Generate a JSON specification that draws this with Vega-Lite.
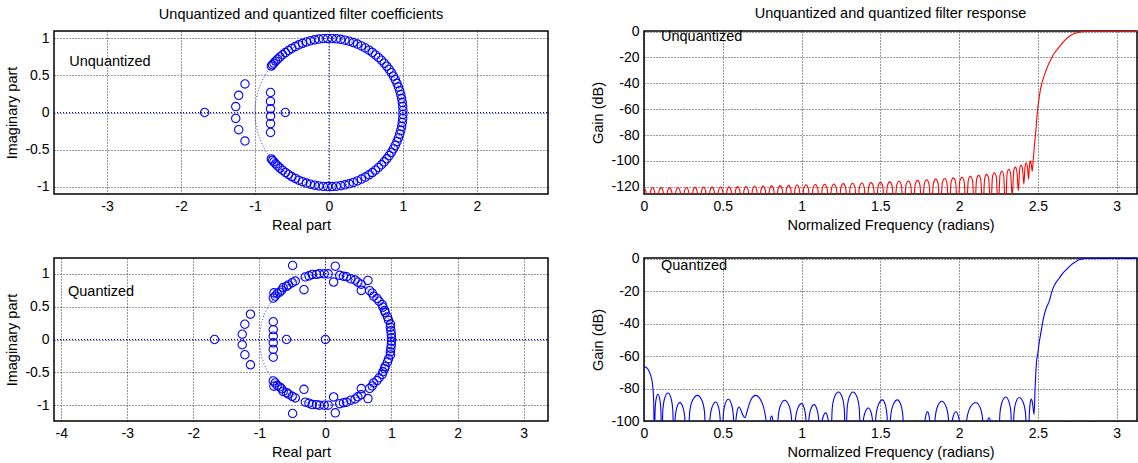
{
"$schema": "https://vega.github.io/schema/vega-lite/v6.json",
"padding": {"left": 4, "top": 5, "right": 0, "bottom": 0},
"config": {
  "font": "Liberation Sans",
  "view": {"stroke": "black", "strokeWidth": 1.5},
  "title": {"fontSize": 14.5, "fontWeight": "normal", "color": "black", "offset": 8, "anchor": "middle", "frame": "group"},
  "axis": {"labelFontSize": 14, "labelColor": "black", "titleFontSize": 14.5, "titleFontWeight": "normal", "titleColor": "black", "gridColor": "black", "gridDash": [1, 2], "gridWidth": 0.8, "gridOpacity": 1, "ticks": false, "domain": false, "labelPadding": 5, "titlePadding": 5, "labelFlush": false, "labelOverlap": false}
},
"datasets": {
"one": [{"k": 0}],
"uc": [
{"i":0,"x":1,"y":0},{"i":1,"x":0.9962,"y":0.0872},{"i":2,"x":0.9848,"y":0.1736},{"i":3,"x":0.9659,"y":0.2588},{"i":4,"x":0.9397,"y":0.342},{"i":5,"x":0.9063,"y":0.4226},{"i":6,"x":0.866,"y":0.5},{"i":7,"x":0.8192,"y":0.5736},{"i":8,"x":0.766,"y":0.6428},{"i":9,"x":0.7071,"y":0.7071},{"i":10,"x":0.6428,"y":0.766},{"i":11,"x":0.5736,"y":0.8192},{"i":12,"x":0.5,"y":0.866},{"i":13,"x":0.4226,"y":0.9063},{"i":14,"x":0.342,"y":0.9397},{"i":15,"x":0.2588,"y":0.9659},{"i":16,"x":0.1736,"y":0.9848},{"i":17,"x":0.0872,"y":0.9962},{"i":18,"x":0,"y":1},{"i":19,"x":-0.0872,"y":0.9962},{"i":20,"x":-0.1736,"y":0.9848},{"i":21,"x":-0.2588,"y":0.9659},{"i":22,"x":-0.342,"y":0.9397},{"i":23,"x":-0.4226,"y":0.9063},{"i":24,"x":-0.5,"y":0.866},{"i":25,"x":-0.5736,"y":0.8192},{"i":26,"x":-0.6428,"y":0.766},{"i":27,"x":-0.7071,"y":0.7071},{"i":28,"x":-0.766,"y":0.6428},{"i":29,"x":-0.8192,"y":0.5736},{"i":30,"x":-0.866,"y":0.5},{"i":31,"x":-0.9063,"y":0.4226},{"i":32,"x":-0.9397,"y":0.342},{"i":33,"x":-0.9659,"y":0.2588},{"i":34,"x":-0.9848,"y":0.1736},{"i":35,"x":-0.9962,"y":0.0872},{"i":36,"x":-1,"y":0},{"i":37,"x":-0.9962,"y":-0.0872},{"i":38,"x":-0.9848,"y":-0.1736},{"i":39,"x":-0.9659,"y":-0.2588},{"i":40,"x":-0.9397,"y":-0.342},{"i":41,"x":-0.9063,"y":-0.4226},{"i":42,"x":-0.866,"y":-0.5},{"i":43,"x":-0.8192,"y":-0.5736},{"i":44,"x":-0.766,"y":-0.6428},{"i":45,"x":-0.7071,"y":-0.7071},{"i":46,"x":-0.6428,"y":-0.766},{"i":47,"x":-0.5736,"y":-0.8192},{"i":48,"x":-0.5,"y":-0.866},{"i":49,"x":-0.4226,"y":-0.9063},{"i":50,"x":-0.342,"y":-0.9397},{"i":51,"x":-0.2588,"y":-0.9659},{"i":52,"x":-0.1736,"y":-0.9848},{"i":53,"x":-0.0872,"y":-0.9962},{"i":54,"x":0,"y":-1},{"i":55,"x":0.0872,"y":-0.9962},{"i":56,"x":0.1736,"y":-0.9848},{"i":57,"x":0.2588,"y":-0.9659},{"i":58,"x":0.342,"y":-0.9397},{"i":59,"x":0.4226,"y":-0.9063},{"i":60,"x":0.5,"y":-0.866},{"i":61,"x":0.5736,"y":-0.8192},{"i":62,"x":0.6428,"y":-0.766},{"i":63,"x":0.7071,"y":-0.7071},{"i":64,"x":0.766,"y":-0.6428},{"i":65,"x":0.8192,"y":-0.5736},{"i":66,"x":0.866,"y":-0.5},{"i":67,"x":0.9063,"y":-0.4226},{"i":68,"x":0.9397,"y":-0.342},{"i":69,"x":0.9659,"y":-0.2588},{"i":70,"x":0.9848,"y":-0.1736},{"i":71,"x":0.9962,"y":-0.0872},{"i":72,"x":1,"y":0}
],
"z0": [
{"x":0.9996,"y":0.027},{"x":0.9967,"y":0.0809},{"x":0.9909,"y":0.1346},{"x":0.9822,"y":0.1879},{"x":0.9706,"y":0.2406},{"x":0.9562,"y":0.2927},{"x":0.939,"y":0.3438},{"x":0.9191,"y":0.394},{"x":0.8965,"y":0.4431},{"x":0.8713,"y":0.4908},{"x":0.8435,"y":0.5371},{"x":0.8133,"y":0.5819},{"x":0.7807,"y":0.6249},{"x":0.7458,"y":0.6661},{"x":0.7088,"y":0.7054},{"x":0.6697,"y":0.7426},{"x":0.6286,"y":0.7777},{"x":0.5857,"y":0.8105},{"x":0.5411,"y":0.8409},{"x":0.4906,"y":0.8714},{"x":0.4384,"y":0.8988},{"x":0.3846,"y":0.9231},{"x":0.3295,"y":0.9442},{"x":0.2733,"y":0.962},{"x":0.2161,"y":0.9764},{"x":0.1581,"y":0.9874},{"x":0.0996,"y":0.995},{"x":0.0408,"y":0.9992},{"x":-0.0182,"y":0.9998},{"x":-0.0771,"y":0.997},{"x":-0.1358,"y":0.9907},{"x":-0.193,"y":0.9812},{"x":-0.2495,"y":0.9684},{"x":-0.3043,"y":0.9526},{"x":-0.3571,"y":0.934},{"x":-0.4079,"y":0.913},{"x":-0.4566,"y":0.8897},{"x":-0.5031,"y":0.8642},{"x":-0.5474,"y":0.8369},{"x":-0.5885,"y":0.8085},{"x":-0.6266,"y":0.7793},{"x":-0.6618,"y":0.7497},{"x":-0.6934,"y":0.7206},{"x":-0.721,"y":0.693},{"x":-0.7448,"y":0.6673},{"x":-0.7645,"y":0.6447},{"x":-0.7791,"y":0.6269},
{"x":0.9996,"y":-0.027},{"x":0.9967,"y":-0.0809},{"x":0.9909,"y":-0.1346},{"x":0.9822,"y":-0.1879},{"x":0.9706,"y":-0.2406},{"x":0.9562,"y":-0.2927},{"x":0.939,"y":-0.3438},{"x":0.9191,"y":-0.394},{"x":0.8965,"y":-0.4431},{"x":0.8713,"y":-0.4908},{"x":0.8435,"y":-0.5371},{"x":0.8133,"y":-0.5819},{"x":0.7807,"y":-0.6249},{"x":0.7458,"y":-0.6661},{"x":0.7088,"y":-0.7054},{"x":0.6697,"y":-0.7426},{"x":0.6286,"y":-0.7777},{"x":0.5857,"y":-0.8105},{"x":0.5411,"y":-0.8409},{"x":0.4906,"y":-0.8714},{"x":0.4384,"y":-0.8988},{"x":0.3846,"y":-0.9231},{"x":0.3295,"y":-0.9442},{"x":0.2733,"y":-0.962},{"x":0.2161,"y":-0.9764},{"x":0.1581,"y":-0.9874},{"x":0.0996,"y":-0.995},{"x":0.0408,"y":-0.9992},{"x":-0.0182,"y":-0.9998},{"x":-0.0771,"y":-0.997},{"x":-0.1358,"y":-0.9907},{"x":-0.193,"y":-0.9812},{"x":-0.2495,"y":-0.9684},{"x":-0.3043,"y":-0.9526},{"x":-0.3571,"y":-0.934},{"x":-0.4079,"y":-0.913},{"x":-0.4566,"y":-0.8897},{"x":-0.5031,"y":-0.8642},{"x":-0.5474,"y":-0.8369},{"x":-0.5885,"y":-0.8085},{"x":-0.6266,"y":-0.7793},{"x":-0.6618,"y":-0.7497},{"x":-0.6934,"y":-0.7206},{"x":-0.721,"y":-0.693},{"x":-0.7448,"y":-0.6673},{"x":-0.7645,"y":-0.6447},{"x":-0.7791,"y":-0.6269},
{"x":-0.79,"y":0.05},{"x":-0.79,"y":-0.05},{"x":-0.79,"y":0.15},{"x":-0.79,"y":-0.15},{"x":-0.79,"y":0.27},{"x":-0.79,"y":-0.27},{"x":-0.59,"y":0},{"x":-1.26,"y":0.08},{"x":-1.26,"y":-0.08},{"x":-1.22,"y":0.232},{"x":-1.22,"y":-0.232},{"x":-1.135,"y":0.385},{"x":-1.135,"y":-0.385},{"x":-1.68,"y":0}
],
"z1": [
{"x":0.9996,"y":0.027},{"x":0.9967,"y":0.0809},{"x":0.9909,"y":0.1346},{"x":0.9822,"y":0.1879},{"x":0.985,"y":0.235},{"x":0.9562,"y":0.2927},{"x":0.939,"y":0.3438},{"x":0.905,"y":0.41},{"x":0.8965,"y":0.4431},{"x":0.8713,"y":0.4908},{"x":0.86,"y":0.53},{"x":0.8133,"y":0.5819},{"x":0.7807,"y":0.6249},{"x":0.73,"y":0.66},{"x":0.7088,"y":0.7054},{"x":0.6697,"y":0.7426},{"x":0.644,"y":0.899},{"x":0.543,"y":0.747},{"x":0.5411,"y":0.8409},{"x":0.4906,"y":0.8714},{"x":0.45,"y":0.905},{"x":0.3846,"y":0.9231},{"x":0.32,"y":0.955},{"x":0.2733,"y":0.962},{"x":0.2161,"y":0.9764},{"x":0.149,"y":1.116},{"x":0.124,"y":0.874},{"x":0.0408,"y":0.9992},{"x":-0.0182,"y":0.9998},{"x":-0.09,"y":1.0},{"x":-0.1358,"y":0.9907},{"x":-0.2,"y":0.99},{"x":-0.2495,"y":0.9684},{"x":-0.3043,"y":0.9526},{"x":-0.497,"y":1.126},{"x":-0.325,"y":0.758},{"x":-0.4566,"y":0.8897},{"x":-0.5031,"y":0.8642},{"x":-0.56,"y":0.83},{"x":-0.5885,"y":0.8085},{"x":-0.64,"y":0.79},{"x":-0.6618,"y":0.7497},{"x":-0.6934,"y":0.7206},{"x":-0.73,"y":0.7},{"x":-0.78,"y":0.71},{"x":-0.76,"y":0.66},{"x":-0.79,"y":0.63},
{"x":0.9996,"y":-0.027},{"x":0.9967,"y":-0.0809},{"x":0.9909,"y":-0.1346},{"x":0.9822,"y":-0.1879},{"x":0.985,"y":-0.235},{"x":0.9562,"y":-0.2927},{"x":0.939,"y":-0.3438},{"x":0.905,"y":-0.41},{"x":0.8965,"y":-0.4431},{"x":0.8713,"y":-0.4908},{"x":0.86,"y":-0.53},{"x":0.8133,"y":-0.5819},{"x":0.7807,"y":-0.6249},{"x":0.73,"y":-0.66},{"x":0.7088,"y":-0.7054},{"x":0.6697,"y":-0.7426},{"x":0.644,"y":-0.899},{"x":0.543,"y":-0.747},{"x":0.5411,"y":-0.8409},{"x":0.4906,"y":-0.8714},{"x":0.45,"y":-0.905},{"x":0.3846,"y":-0.9231},{"x":0.32,"y":-0.955},{"x":0.2733,"y":-0.962},{"x":0.2161,"y":-0.9764},{"x":0.149,"y":-1.116},{"x":0.124,"y":-0.874},{"x":0.0408,"y":-0.9992},{"x":-0.0182,"y":-0.9998},{"x":-0.09,"y":-1.0},{"x":-0.1358,"y":-0.9907},{"x":-0.2,"y":-0.99},{"x":-0.2495,"y":-0.9684},{"x":-0.3043,"y":-0.9526},{"x":-0.497,"y":-1.126},{"x":-0.325,"y":-0.758},{"x":-0.4566,"y":-0.8897},{"x":-0.5031,"y":-0.8642},{"x":-0.56,"y":-0.83},{"x":-0.5885,"y":-0.8085},{"x":-0.64,"y":-0.79},{"x":-0.6618,"y":-0.7497},{"x":-0.6934,"y":-0.7206},{"x":-0.73,"y":-0.7},{"x":-0.78,"y":-0.71},{"x":-0.76,"y":-0.66},{"x":-0.79,"y":-0.63},
{"x":-0.79,"y":0.05},{"x":-0.79,"y":-0.05},{"x":-0.79,"y":0.15},{"x":-0.79,"y":-0.15},{"x":-0.79,"y":0.27},{"x":-0.79,"y":-0.27},{"x":-0.59,"y":0},{"x":-1.26,"y":0.08},{"x":-1.26,"y":-0.08},{"x":-1.22,"y":0.232},{"x":-1.22,"y":-0.232},{"x":-1.135,"y":0.385},{"x":-1.135,"y":-0.385},{"x":-1.68,"y":0},{"x":0,"y":0}
],
"red": [
{"f":0,"g":-120.8},{"f":0.0135,"g":-123.8},{"f":0.027,"g":-140},
{"f":0.0405,"g":-123.8},{"f":0.054,"g":-120.8},{"f":0.0675,"g":-123.8},{"f":0.081,"g":-140},
{"f":0.0945,"g":-123.7},{"f":0.108,"g":-120.7},{"f":0.1215,"g":-123.7},{"f":0.135,"g":-140},
{"f":0.1485,"g":-123.7},{"f":0.162,"g":-120.7},{"f":0.1755,"g":-123.7},{"f":0.189,"g":-140},
{"f":0.2025,"g":-123.6},{"f":0.216,"g":-120.6},{"f":0.2295,"g":-123.6},{"f":0.243,"g":-140},
{"f":0.2565,"g":-123.6},{"f":0.27,"g":-120.6},{"f":0.2835,"g":-123.6},{"f":0.297,"g":-140},
{"f":0.3105,"g":-123.5},{"f":0.324,"g":-120.5},{"f":0.3375,"g":-123.5},{"f":0.351,"g":-140},
{"f":0.3645,"g":-123.4},{"f":0.378,"g":-120.4},{"f":0.3915,"g":-123.4},{"f":0.405,"g":-140},
{"f":0.4185,"g":-123.3},{"f":0.432,"g":-120.3},{"f":0.4455,"g":-123.3},{"f":0.459,"g":-140},
{"f":0.4725,"g":-123.2},{"f":0.486,"g":-120.2},{"f":0.4995,"g":-123.2},{"f":0.513,"g":-140},
{"f":0.5265,"g":-123.1},{"f":0.54,"g":-120.1},{"f":0.5535,"g":-123.1},{"f":0.567,"g":-140},
{"f":0.5805,"g":-122.9},{"f":0.594,"g":-119.9},{"f":0.6075,"g":-122.9},{"f":0.621,"g":-140},
{"f":0.6345,"g":-122.8},{"f":0.648,"g":-119.8},{"f":0.6615,"g":-122.8},{"f":0.675,"g":-140},
{"f":0.6885,"g":-122.6},{"f":0.702,"g":-119.6},{"f":0.7155,"g":-122.6},{"f":0.729,"g":-140},
{"f":0.7425,"g":-122.5},{"f":0.756,"g":-119.5},{"f":0.7695,"g":-122.5},{"f":0.783,"g":-140},
{"f":0.7965,"g":-122.3},{"f":0.81,"g":-119.3},{"f":0.8235,"g":-122.3},{"f":0.837,"g":-140},
{"f":0.8505,"g":-122.1},{"f":0.864,"g":-119.1},{"f":0.8775,"g":-122.1},{"f":0.891,"g":-140},
{"f":0.9045,"g":-121.9},{"f":0.918,"g":-118.9},{"f":0.9315,"g":-121.9},{"f":0.945,"g":-140},
{"f":0.9585,"g":-121.7},{"f":0.972,"g":-118.7},{"f":0.9855,"g":-121.7},{"f":0.999,"g":-140},
{"f":1.0138,"g":-121.5},{"f":1.0285,"g":-118.5},{"f":1.0433,"g":-121.5},{"f":1.058,"g":-140},
{"f":1.0728,"g":-121.3},{"f":1.0875,"g":-118.3},{"f":1.1023,"g":-121.3},{"f":1.117,"g":-140},
{"f":1.1318,"g":-121.1},{"f":1.1465,"g":-118.1},{"f":1.1613,"g":-121.1},{"f":1.176,"g":-140},
{"f":1.1908,"g":-120.9},{"f":1.2055,"g":-117.9},{"f":1.2203,"g":-120.9},{"f":1.235,"g":-140},
{"f":1.2498,"g":-120.6},{"f":1.2645,"g":-117.6},{"f":1.2793,"g":-120.6},{"f":1.294,"g":-140},
{"f":1.3088,"g":-120.3},{"f":1.3235,"g":-117.3},{"f":1.3383,"g":-120.3},{"f":1.353,"g":-140},
{"f":1.3678,"g":-120.1},{"f":1.3825,"g":-117.1},{"f":1.3973,"g":-120.1},{"f":1.412,"g":-140},
{"f":1.4268,"g":-119.8},{"f":1.4415,"g":-116.8},{"f":1.4563,"g":-119.8},{"f":1.471,"g":-140},
{"f":1.4858,"g":-119.6},{"f":1.5005,"g":-116.6},{"f":1.5153,"g":-119.6},{"f":1.53,"g":-140},
{"f":1.5448,"g":-119.2},{"f":1.5595,"g":-116.2},{"f":1.5743,"g":-119.2},{"f":1.589,"g":-140},
{"f":1.6038,"g":-118.8},{"f":1.6185,"g":-115.8},{"f":1.6333,"g":-118.8},{"f":1.648,"g":-140},
{"f":1.6628,"g":-118.5},{"f":1.6775,"g":-115.5},{"f":1.6923,"g":-118.5},{"f":1.707,"g":-140},
{"f":1.7215,"g":-118.1},{"f":1.736,"g":-115.1},{"f":1.7505,"g":-118.1},{"f":1.765,"g":-140},
{"f":1.7795,"g":-117.6},{"f":1.794,"g":-114.6},{"f":1.8085,"g":-117.6},{"f":1.823,"g":-140},
{"f":1.8373,"g":-117.1},{"f":1.8515,"g":-114.1},{"f":1.8658,"g":-117.1},{"f":1.88,"g":-140},
{"f":1.894,"g":-116.6},{"f":1.908,"g":-113.6},{"f":1.922,"g":-116.6},{"f":1.936,"g":-140},
{"f":1.9498,"g":-116.1},{"f":1.9635,"g":-113.1},{"f":1.9773,"g":-116.1},{"f":1.991,"g":-140},
{"f":2.0045,"g":-115.6},{"f":2.018,"g":-112.6},{"f":2.0315,"g":-115.6},{"f":2.045,"g":-140},
{"f":2.0583,"g":-114.9},{"f":2.0715,"g":-111.9},{"f":2.0848,"g":-114.9},{"f":2.098,"g":-140},
{"f":2.111,"g":-114.2},{"f":2.124,"g":-111.2},{"f":2.137,"g":-114.2},{"f":2.15,"g":-140},
{"f":2.1625,"g":-113.4},{"f":2.175,"g":-110.4},{"f":2.1875,"g":-113.4},{"f":2.2,"g":-140},
{"f":2.212,"g":-112.2},{"f":2.224,"g":-109.2},{"f":2.236,"g":-112.2},{"f":2.248,"g":-140},
{"f":2.2595,"g":-111},{"f":2.271,"g":-108},{"f":2.2825,"g":-111},{"f":2.294,"g":-140},
{"f":2.3048,"g":-109.5},{"f":2.3155,"g":-106.5},{"f":2.3263,"g":-109.5},{"f":2.337,"g":-127},
{"f":2.3468,"g":-107.8},{"f":2.3565,"g":-104.8},{"f":2.3663,"g":-107.8},{"f":2.376,"g":-123},
{"f":2.3848,"g":-106.2},{"f":2.3935,"g":-103.2},{"f":2.4023,"g":-106.2},{"f":2.411,"g":-118},
{"f":2.4185,"g":-104.6},{"f":2.426,"g":-101.6},{"f":2.4335,"g":-104.6},{"f":2.441,"g":-114},
{"f":2.4468,"g":-103},{"f":2.4525,"g":-100},{"f":2.4583,"g":-103},{"f":2.464,"g":-108},
{"f":2.47,"g":-100},{"f":2.478,"g":-88},{"f":2.487,"g":-77},{"f":2.497,"g":-61.5},{"f":2.505,"g":-54},{"f":2.518,"g":-43.6},{"f":2.535,"g":-36},{"f":2.55,"g":-30.8},{"f":2.565,"g":-26},{"f":2.582,"g":-21.8},{"f":2.6,"g":-17.6},{"f":2.613,"g":-15.4},{"f":2.635,"g":-11.8},{"f":2.655,"g":-9},{"f":2.675,"g":-6.2},{"f":2.698,"g":-3.8},{"f":2.72,"g":-2.2},{"f":2.74,"g":-1.2},{"f":2.76,"g":-0.5},{"f":2.783,"g":-0.1},{"f":2.82,"g":0},{"f":3.1416,"g":0}
],
"blue": [
{"f":0,"g":-66.5},{"f":0.02,"g":-67.5},{"f":0.035,"g":-70},{"f":0.048,"g":-74},{"f":0.056,"g":-79},{"f":0.062,"g":-90},{"f":0.066,"g":-115},
{"f":0.0704,"g":-93.5},{"f":0.077,"g":-86.5},{"f":0.088,"g":-83.5},{"f":0.1,"g":-86.5},{"f":0.1072,"g":-93.5},{"f":0.112,"g":-115},
{"f":0.12,"g":-92.8},{"f":0.132,"g":-85.8},{"f":0.152,"g":-82.8},{"f":0.171,"g":-85.8},{"f":0.1824,"g":-92.8},{"f":0.19,"g":-115},
{"f":0.1974,"g":-98.7},{"f":0.2085,"g":-91.7},{"f":0.227,"g":-88.7},{"f":0.2475,"g":-91.7},{"f":0.2598,"g":-98.7},{"f":0.268,"g":-115},
{"f":0.278,"g":-115},{"f":0.2902,"g":-94.2},{"f":0.3085,"g":-87.2},{"f":0.339,"g":-84.2},{"f":0.367,"g":-87.2},{"f":0.3838,"g":-94.2},{"f":0.395,"g":-115},
{"f":0.41,"g":-115},{"f":0.419,"g":-98.3},{"f":0.4325,"g":-91.3},{"f":0.455,"g":-88.3},{"f":0.4725,"g":-91.3},{"f":0.483,"g":-98.3},{"f":0.49,"g":-115},
{"f":0.495,"g":-115},{"f":0.503,"g":-96.6},{"f":0.515,"g":-89.6},{"f":0.535,"g":-86.6},{"f":0.555,"g":-89.6},{"f":0.567,"g":-96.6},{"f":0.575,"g":-115},
{"f":0.582,"g":-101},{"f":0.59,"g":-94.5},{"f":0.603,"g":-91.4},{"f":0.616,"g":-93.5},{"f":0.628,"g":-96.5},{"f":0.641,"g":-98},{"f":0.655,"g":-94},{"f":0.67,"g":-89},{"f":0.688,"g":-85.5},{"f":0.709,"g":-84.2},{"f":0.73,"g":-85.5},{"f":0.75,"g":-89},{"f":0.765,"g":-94},{"f":0.776,"g":-101},{"f":0.785,"g":-115},
{"f":0.79,"g":-115},{"f":0.794,"g":-107},{"f":0.8,"g":-100},{"f":0.81,"g":-97},{"f":0.819,"g":-100},{"f":0.8244,"g":-107},{"f":0.828,"g":-115},
{"f":0.842,"g":-115},{"f":0.852,"g":-97.2},{"f":0.867,"g":-90.2},{"f":0.892,"g":-87.2},{"f":0.919,"g":-90.2},{"f":0.9352,"g":-97.2},{"f":0.946,"g":-115},
{"f":0.951,"g":-115},{"f":0.9608,"g":-99.3},{"f":0.9755,"g":-92.3},{"f":1.0,"g":-89.3},{"f":1.0175,"g":-92.3},{"f":1.028,"g":-99.3},{"f":1.035,"g":-115},
{"f":1.037,"g":-115},{"f":1.0454,"g":-99.9},{"f":1.058,"g":-92.9},{"f":1.079,"g":-89.9},{"f":1.098,"g":-92.9},{"f":1.1094,"g":-99.9},{"f":1.117,"g":-115},
{"f":1.1242,"g":-105},{"f":1.135,"g":-98},{"f":1.153,"g":-95},{"f":1.1665,"g":-98},{"f":1.1746,"g":-105},{"f":1.18,"g":-115},
{"f":1.185,"g":-115},{"f":1.1948,"g":-92.1},{"f":1.2095,"g":-85.1},{"f":1.234,"g":-82.1},{"f":1.257,"g":-85.1},{"f":1.2708,"g":-92.1},{"f":1.28,"g":-115},
{"f":1.2894,"g":-92.1},{"f":1.3035,"g":-85.1},{"f":1.327,"g":-82.1},{"f":1.3515,"g":-85.1},{"f":1.3662,"g":-92.1},{"f":1.376,"g":-115},
{"f":1.38,"g":-115},{"f":1.3888,"g":-102},{"f":1.402,"g":-95},{"f":1.424,"g":-92},{"f":1.442,"g":-95},{"f":1.4528,"g":-102},{"f":1.46,"g":-115},
{"f":1.462,"g":-115},{"f":1.4722,"g":-97},{"f":1.4875,"g":-90},{"f":1.513,"g":-87},{"f":1.5315,"g":-90},{"f":1.5426,"g":-97},{"f":1.55,"g":-115},
{"f":1.555,"g":-115},{"f":1.5656,"g":-97},{"f":1.5815,"g":-90},{"f":1.608,"g":-87},{"f":1.63,"g":-90},{"f":1.6432,"g":-97},{"f":1.652,"g":-115},
{"f":1.69,"g":-115},{"f":1.712,"g":-101.5},{"f":1.721,"g":-100},{"f":1.73,"g":-101.5},{"f":1.75,"g":-115},
{"f":1.775,"g":-115},{"f":1.7798,"g":-104.4},{"f":1.787,"g":-97.4},{"f":1.799,"g":-94.4},{"f":1.8105,"g":-97.4},{"f":1.8174,"g":-104.4},{"f":1.822,"g":-115},
{"f":1.838,"g":-115},{"f":1.8484,"g":-97.8},{"f":1.864,"g":-90.8},{"f":1.89,"g":-87.8},{"f":1.916,"g":-90.8},{"f":1.9316,"g":-97.8},{"f":1.942,"g":-115},
{"f":1.945,"g":-115},{"f":1.9518,"g":-104.3},{"f":1.962,"g":-97.3},{"f":1.979,"g":-94.3},{"f":1.996,"g":-97.3},{"f":2.0062,"g":-104.3},{"f":2.013,"g":-115},
{"f":2.035,"g":-115},{"f":2.0492,"g":-98.6},{"f":2.0705,"g":-91.6},{"f":2.106,"g":-88.6},{"f":2.133,"g":-91.6},{"f":2.1492,"g":-98.6},{"f":2.16,"g":-115},
{"f":2.165,"g":-115},{"f":2.17,"g":-108},{"f":2.1775,"g":-101},{"f":2.19,"g":-98},{"f":2.2015,"g":-101},{"f":2.2084,"g":-108},{"f":2.213,"g":-115},
{"f":2.25,"g":-115},{"f":2.2592,"g":-95.2},{"f":2.273,"g":-88.2},{"f":2.296,"g":-85.2},{"f":2.3165,"g":-88.2},{"f":2.3288,"g":-95.2},{"f":2.337,"g":-115},
{"f":2.34,"g":-115},{"f":2.3482,"g":-95.5},{"f":2.3605,"g":-88.5},{"f":2.381,"g":-85.5},{"f":2.4065,"g":-88.5},{"f":2.4218,"g":-95.5},{"f":2.432,"g":-115},
{"f":2.44,"g":-115},{"f":2.446,"g":-95},{"f":2.452,"g":-88.5},{"f":2.458,"g":-86.5},{"f":2.465,"g":-88.5},{"f":2.471,"g":-93},{"f":2.476,"g":-96},
{"f":2.482,"g":-80},{"f":2.487,"g":-70},{"f":2.491,"g":-64},{"f":2.5,"g":-58},{"f":2.508,"g":-52},{"f":2.52,"g":-45},{"f":2.529,"g":-40},{"f":2.54,"g":-34.8},{"f":2.555,"g":-30},{"f":2.571,"g":-26.5},{"f":2.592,"g":-19.3},{"f":2.61,"g":-15.5},{"f":2.635,"g":-12.1},{"f":2.66,"g":-8.8},{"f":2.688,"g":-6},{"f":2.715,"g":-3.6},{"f":2.741,"g":-1.9},{"f":2.76,"g":-0.8},{"f":2.783,"g":-0.2},{"f":2.8,"g":0},{"f":3.1416,"g":0}
]
},
"columns": 2,
"spacing": {"row": 64, "column": 96},
"bounds": "flush",
"concat": [
{
"width": 494, "height": 163,
"title": {"text": "Unquantized and quantized filter coefficients"},
"layer": [
  {"data": {"name": "uc"}, "mark": {"type": "line", "color": "#0000ff", "strokeWidth": 0.8, "strokeDash": [1, 2]},
   "encoding": {
    "x": {"field": "x", "type": "quantitative", "scale": {"domain": [-3.716, 2.96], "nice": false, "zero": false}, "axis": {"values": [-3, -2, -1, 0, 1, 2], "title": "Real part", "labelExpr": "'' + datum.value"}},
    "y": {"field": "y", "type": "quantitative", "scale": {"domain": [-1.1, 1.1], "nice": false, "zero": false}, "axis": {"values": [-1, -0.5, 0, 0.5, 1], "title": "Imaginary part", "labelExpr": "'' + datum.value"}},
    "order": {"field": "i", "type": "quantitative"}}},
  {"data": {"name": "one"}, "mark": {"type": "rule", "color": "#0000ff", "strokeWidth": 1, "strokeDash": [1, 2]},
   "encoding": {
    "x": {"datum": 0, "type": "quantitative", "scale": {"domain": [-3.716, 2.96], "nice": false, "zero": false}, "axis": {"values": [-3, -2, -1, 0, 1, 2], "title": "Real part", "labelExpr": "'' + datum.value"}},
    "y": {"datum": -1.1, "type": "quantitative", "scale": {"domain": [-1.1, 1.1], "nice": false, "zero": false}, "axis": {"values": [-1, -0.5, 0, 0.5, 1], "title": "Imaginary part", "labelExpr": "'' + datum.value"}},
    "y2": {"datum": 1.1}}},
  {"data": {"name": "one"}, "mark": {"type": "rule", "color": "#0000ff", "strokeWidth": 1, "strokeDash": [1, 2]},
   "encoding": {
    "x": {"datum": -3.716, "type": "quantitative", "scale": {"domain": [-3.716, 2.96], "nice": false, "zero": false}, "axis": {"values": [-3, -2, -1, 0, 1, 2], "title": "Real part", "labelExpr": "'' + datum.value"}},
    "x2": {"datum": 2.96},
    "y": {"datum": 0, "type": "quantitative", "scale": {"domain": [-1.1, 1.1], "nice": false, "zero": false}, "axis": {"values": [-1, -0.5, 0, 0.5, 1], "title": "Imaginary part", "labelExpr": "'' + datum.value"}}}},
  {"data": {"name": "z0"}, "mark": {"type": "point", "shape": "circle", "filled": false, "color": "#0000ff", "strokeWidth": 1.1, "size": 70, "opacity": 1},
   "encoding": {
    "x": {"field": "x", "type": "quantitative", "scale": {"domain": [-3.716, 2.96], "nice": false, "zero": false}, "axis": {"values": [-3, -2, -1, 0, 1, 2], "title": "Real part", "labelExpr": "'' + datum.value"}},
    "y": {"field": "y", "type": "quantitative", "scale": {"domain": [-1.1, 1.1], "nice": false, "zero": false}, "axis": {"values": [-1, -0.5, 0, 0.5, 1], "title": "Imaginary part", "labelExpr": "'' + datum.value"}}}},
  {"data": {"name": "one"}, "mark": {"type": "text", "align": "left", "baseline": "middle", "fontSize": 14.5, "color": "black", "text": "Unquantized"},
   "encoding": {
    "x": {"datum": -3.51, "type": "quantitative", "scale": {"domain": [-3.716, 2.96], "nice": false, "zero": false}, "axis": {"values": [-3, -2, -1, 0, 1, 2], "title": "Real part", "labelExpr": "'' + datum.value"}},
    "y": {"datum": 0.68, "type": "quantitative", "scale": {"domain": [-1.1, 1.1], "nice": false, "zero": false}, "axis": {"values": [-1, -0.5, 0, 0.5, 1], "title": "Imaginary part", "labelExpr": "'' + datum.value"}}}}
]
},
{
"width": 493, "height": 163,
"title": {"text": "Unquantized and quantized filter response", "offset": 3},
"layer": [
  {"data": {"name": "red"}, "mark": {"type": "line", "color": "#ff0000", "strokeWidth": 1.1, "clip": true, "interpolate": "monotone"},
   "encoding": {
    "x": {"field": "f", "type": "quantitative", "scale": {"domain": [0, 3.129], "nice": false, "zero": false}, "axis": {"values": [0, 0.5, 1, 1.5, 2, 2.5, 3], "title": "Normalized Frequency (radians)", "labelExpr": "'' + datum.value"}},
    "y": {"field": "g", "type": "quantitative", "scale": {"domain": [-125.6, 0.4], "nice": false, "zero": false}, "axis": {"values": [-120, -100, -80, -60, -40, -20, 0], "title": "Gain (dB)", "labelExpr": "'' + datum.value"}}}},
  {"data": {"name": "one"}, "mark": {"type": "text", "align": "left", "baseline": "middle", "fontSize": 14.5, "color": "black", "text": "Unquantized"},
   "encoding": {
    "x": {"datum": 0.108, "type": "quantitative", "scale": {"domain": [0, 3.129], "nice": false, "zero": false}, "axis": {"values": [0, 0.5, 1, 1.5, 2, 2.5, 3], "title": "Normalized Frequency (radians)", "labelExpr": "'' + datum.value"}},
    "y": {"datum": -4.6, "type": "quantitative", "scale": {"domain": [-125.6, 0.4], "nice": false, "zero": false}, "axis": {"values": [-120, -100, -80, -60, -40, -20, 0], "title": "Gain (dB)", "labelExpr": "'' + datum.value"}}}}
]
},
{
"width": 494, "height": 163,
"layer": [
  {"data": {"name": "uc"}, "mark": {"type": "line", "color": "#0000ff", "strokeWidth": 0.8, "strokeDash": [1, 2]},
   "encoding": {
    "x": {"field": "x", "type": "quantitative", "scale": {"domain": [-4.11, 3.37], "nice": false, "zero": false}, "axis": {"values": [-4, -3, -2, -1, 0, 1, 2, 3], "title": "Real part", "labelExpr": "'' + datum.value"}},
    "y": {"field": "y", "type": "quantitative", "scale": {"domain": [-1.24, 1.24], "nice": false, "zero": false}, "axis": {"values": [-1, -0.5, 0, 0.5, 1], "title": "Imaginary part", "labelExpr": "'' + datum.value"}},
    "order": {"field": "i", "type": "quantitative"}}},
  {"data": {"name": "one"}, "mark": {"type": "rule", "color": "#0000ff", "strokeWidth": 1, "strokeDash": [1, 2]},
   "encoding": {
    "x": {"datum": 0, "type": "quantitative", "scale": {"domain": [-4.11, 3.37], "nice": false, "zero": false}, "axis": {"values": [-4, -3, -2, -1, 0, 1, 2, 3], "title": "Real part", "labelExpr": "'' + datum.value"}},
    "y": {"datum": -1.24, "type": "quantitative", "scale": {"domain": [-1.24, 1.24], "nice": false, "zero": false}, "axis": {"values": [-1, -0.5, 0, 0.5, 1], "title": "Imaginary part", "labelExpr": "'' + datum.value"}},
    "y2": {"datum": 1.24}}},
  {"data": {"name": "one"}, "mark": {"type": "rule", "color": "#0000ff", "strokeWidth": 1, "strokeDash": [1, 2]},
   "encoding": {
    "x": {"datum": -4.11, "type": "quantitative", "scale": {"domain": [-4.11, 3.37], "nice": false, "zero": false}, "axis": {"values": [-4, -3, -2, -1, 0, 1, 2, 3], "title": "Real part", "labelExpr": "'' + datum.value"}},
    "x2": {"datum": 3.37},
    "y": {"datum": 0, "type": "quantitative", "scale": {"domain": [-1.24, 1.24], "nice": false, "zero": false}, "axis": {"values": [-1, -0.5, 0, 0.5, 1], "title": "Imaginary part", "labelExpr": "'' + datum.value"}}}},
  {"data": {"name": "z1"}, "mark": {"type": "point", "shape": "circle", "filled": false, "color": "#0000ff", "strokeWidth": 1.1, "size": 70, "opacity": 1},
   "encoding": {
    "x": {"field": "x", "type": "quantitative", "scale": {"domain": [-4.11, 3.37], "nice": false, "zero": false}, "axis": {"values": [-4, -3, -2, -1, 0, 1, 2, 3], "title": "Real part", "labelExpr": "'' + datum.value"}},
    "y": {"field": "y", "type": "quantitative", "scale": {"domain": [-1.24, 1.24], "nice": false, "zero": false}, "axis": {"values": [-1, -0.5, 0, 0.5, 1], "title": "Imaginary part", "labelExpr": "'' + datum.value"}}}},
  {"data": {"name": "one"}, "mark": {"type": "text", "align": "left", "baseline": "middle", "fontSize": 14.5, "color": "black", "text": "Quantized"},
   "encoding": {
    "x": {"datum": -3.898, "type": "quantitative", "scale": {"domain": [-4.11, 3.37], "nice": false, "zero": false}, "axis": {"values": [-4, -3, -2, -1, 0, 1, 2, 3], "title": "Real part", "labelExpr": "'' + datum.value"}},
    "y": {"datum": 0.723, "type": "quantitative", "scale": {"domain": [-1.24, 1.24], "nice": false, "zero": false}, "axis": {"values": [-1, -0.5, 0, 0.5, 1], "title": "Imaginary part", "labelExpr": "'' + datum.value"}}}}
]
},
{
"width": 493, "height": 163,
"layer": [
  {"data": {"name": "blue"}, "mark": {"type": "line", "color": "#0000ff", "strokeWidth": 1.1, "clip": true, "interpolate": "monotone"},
   "encoding": {
    "x": {"field": "f", "type": "quantitative", "scale": {"domain": [0, 3.129], "nice": false, "zero": false}, "axis": {"values": [0, 0.5, 1, 1.5, 2, 2.5, 3], "title": "Normalized Frequency (radians)", "labelExpr": "'' + datum.value"}},
    "y": {"field": "g", "type": "quantitative", "scale": {"domain": [-100, 0.35], "nice": false, "zero": false}, "axis": {"values": [-100, -80, -60, -40, -20, 0], "title": "Gain (dB)", "labelExpr": "'' + datum.value"}}}},
  {"data": {"name": "one"}, "mark": {"type": "text", "align": "left", "baseline": "middle", "fontSize": 14.5, "color": "black", "text": "Quantized"},
   "encoding": {
    "x": {"datum": 0.108, "type": "quantitative", "scale": {"domain": [0, 3.129], "nice": false, "zero": false}, "axis": {"values": [0, 0.5, 1, 1.5, 2, 2.5, 3], "title": "Normalized Frequency (radians)", "labelExpr": "'' + datum.value"}},
    "y": {"datum": -4.3, "type": "quantitative", "scale": {"domain": [-100, 0.35], "nice": false, "zero": false}, "axis": {"values": [-100, -80, -60, -40, -20, 0], "title": "Gain (dB)", "labelExpr": "'' + datum.value"}}}}
]
}
]
}
